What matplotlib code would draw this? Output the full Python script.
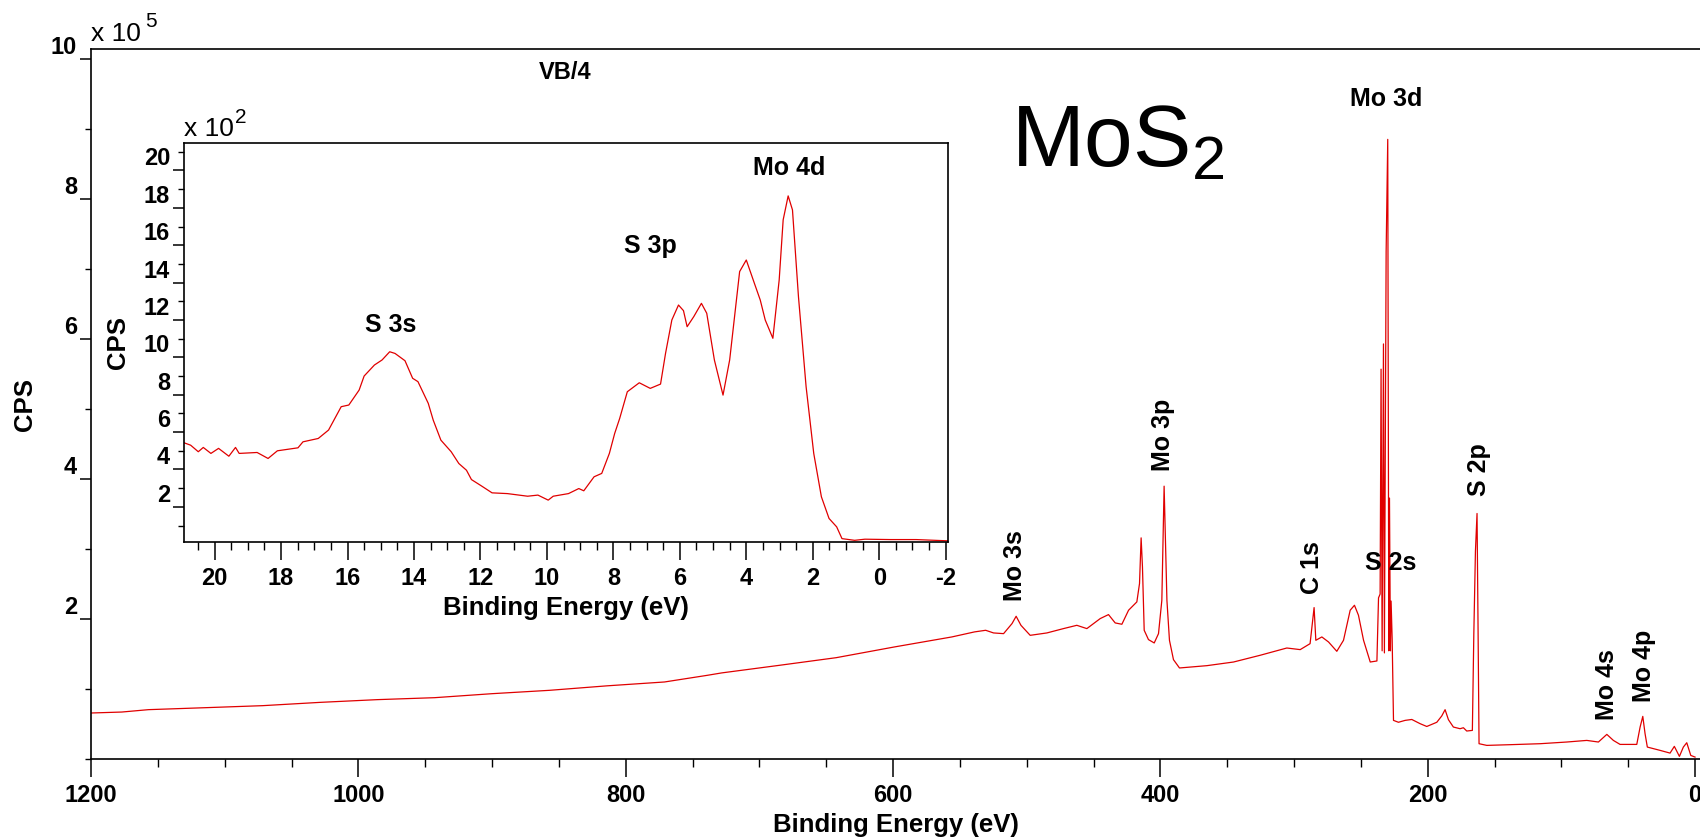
import matplotlib
matplotlib.use("Agg")
import matplotlib.pyplot as plt
from matplotlib.ticker import MultipleLocator

plt.rcParams['font.family'] = ['Liberation Sans', 'DejaVu Sans']
plt.rcParams['mathtext.default'] = 'regular'
plt.rcParams['axes.unicode_minus'] = False

# survey spectrum, binding energy (eV) and CPS in units of 1e5
survey_be = [1200.4, 1177, 1157, 1114.6, 1071.6, 1028.7, 985.8, 942.9, 900, 857,
             814, 771, 739, 728, 685, 642.5, 599, 556, 539, 530.7,
             524.8, 517.3, 511, 507.9, 504.3, 497.4, 484.9, 472.5, 462.5, 455,
             445, 438.8, 433.8, 428.8, 423.8, 417.6, 415.6, 414.4, 413.4, 412.1,
             408.9, 404.6, 401.4, 398.9, 397.2, 395.1, 393.2, 390.2, 385.7, 365.2,
             345.3, 325.4, 305.4, 295.4, 288, 285, 283.7, 279.2, 274.2, 268,
             263, 258, 254.8, 251.8, 248, 243, 238, 236.8, 235.6, 234.9,
             234.1, 233.1, 232.4, 231.1, 229.9, 229.1, 228.6, 227.9, 227.4, 226.6,
             225.6, 221.9, 216.9, 211.9, 205.7, 200.7, 193.2, 189.5, 187, 184.5,
             180.8, 175.8, 173.3, 170.8, 166.6, 165.5, 164.3, 163.1, 162.3, 161.6,
             155.8, 138.4, 115.9, 96, 81, 72.3, 66, 61.1, 56.1, 43.6,
             41.1, 39.1, 37.4, 35.7, 26.2, 18.7, 15.5, 11.7, 8.75, 6.2,
             3.2, 0]
survey_cps = [0.662, 0.676, 0.71, 0.738, 0.767, 0.814, 0.853, 0.881, 0.938, 0.986,
              1.05, 1.105, 1.20, 1.235, 1.343, 1.452, 1.605, 1.748, 1.82, 1.843,
              1.805, 1.795, 1.938, 2.043, 1.914, 1.771, 1.805, 1.867, 1.914, 1.867,
              2.010, 2.067, 1.948, 1.929, 2.129, 2.248, 2.51, 3.162, 2.748, 1.843,
              1.710, 1.662, 1.795, 2.271, 3.90, 2.271, 1.700, 1.424, 1.305, 1.338,
              1.390, 1.486, 1.590, 1.567, 1.652, 2.167, 1.700, 1.748, 1.676, 1.543,
              1.700, 2.129, 2.2, 2.057, 1.700, 1.390, 1.405, 2.306, 2.36, 5.57,
              1.55, 5.93, 1.52, 7.25, 8.85, 1.55, 3.73, 1.55, 2.26, 1.72,
              0.557, 0.53, 0.557, 0.57, 0.51, 0.47, 0.53, 0.62, 0.71, 0.567,
              0.462, 0.438, 0.452, 0.405, 0.414, 1.795, 2.971, 3.51, 1.795, 0.224,
              0.2, 0.21, 0.224, 0.248, 0.271, 0.248, 0.357, 0.271, 0.214, 0.214,
              0.462, 0.614, 0.367, 0.176, 0.129, 0.090, 0.186, 0.043, 0.176, 0.238,
              0.057, 0.033]

# valence band, binding energy (eV) and CPS in units of 1e2
vb_be = [20.92, 20.72, 20.49, 20.34, 20.11, 19.88, 19.57, 19.37, 19.26, 18.72,
         18.39, 18.11, 17.49, 17.34, 16.88, 16.57, 16.19, 15.96, 15.65, 15.50,
         15.19, 14.96, 14.73, 14.57, 14.27, 14.04, 13.88, 13.57, 13.42, 13.19,
         12.88, 12.65, 12.42, 12.27, 11.96, 11.65, 11.19, 10.58, 10.27, 9.96,
         9.81, 9.35, 9.04, 8.89, 8.58, 8.35, 8.12, 7.96, 7.81, 7.58,
         7.22, 6.89, 6.58, 6.43, 6.24, 6.04, 5.89, 5.78, 5.58, 5.35,
         5.19, 4.96, 4.70, 4.50, 4.20, 4.00, 3.74, 3.58, 3.43, 3.20,
         3.01, 2.89, 2.74, 2.61, 2.43, 2.20, 1.97, 1.74, 1.51, 1.28,
         1.12, 0.74, 0.43, -0.34, -1.11, -2.1]
vb_cps = [5.43, 5.30, 4.95, 5.18, 4.86, 5.13, 4.71, 5.18, 4.86, 4.91,
          4.59, 5.0, 5.16, 5.48, 5.66, 6.11, 7.36, 7.45, 8.25, 9.0,
          9.59, 9.86, 10.3, 10.21, 9.82, 8.88, 8.70, 7.54, 6.64, 5.57,
          4.95, 4.32, 3.96, 3.46, 3.11, 2.75, 2.71, 2.57, 2.63, 2.36,
          2.57, 2.71, 2.98, 2.86, 3.61, 3.79, 4.86, 5.93, 6.73, 8.16,
          8.64, 8.34, 8.57, 10.21, 12.0, 12.8, 12.5, 11.64, 12.18, 12.89,
          12.36, 9.86, 7.98, 9.86, 14.59, 15.21, 13.88, 13.07, 12.0, 11.02,
          14.14, 17.36, 18.64, 17.89, 13.25, 8.43, 4.86, 2.54, 1.38, 0.93,
          0.30, 0.21, 0.27, 0.25, 0.25, 0.18]

main_yticks = [2, 4, 6, 8, 10]
inset_yticks = [2, 4, 6, 8, 10, 12, 14, 16, 18, 20]

red = '#e00000'
bold = dict(fontweight='bold')


def style_axes(a, x_major, x_minor, yticks):
    for s in a.spines.values():
        s.set_linewidth(1.2)
    a.xaxis.set_major_locator(MultipleLocator(x_major))
    a.xaxis.set_minor_locator(MultipleLocator(x_minor))
    a.set_yticks(yticks)
    a.yaxis.set_minor_locator(MultipleLocator(1))
    a.tick_params(axis='x', which='major', length=13, width=1.1, pad=5, labelsize=17)
    a.tick_params(axis='x', which='minor', length=6, width=1.0)
    a.tick_params(axis='y', which='major', length=8, width=1.1, pad=2, labelsize=17)
    a.tick_params(axis='y', which='minor', length=4.5, width=1.0)
    for lbl in a.get_xticklabels() + a.get_yticklabels():
        lbl.set_fontweight('bold')
    for lbl in a.get_yticklabels():
        lbl.set_va('bottom')


def multiplier(a, power, dx, dy):
    # "x 10" with its exponent, above the top-left corner
    a.text(0, 1.004, 'x 10', transform=a.transAxes, fontsize=19, ha='left', va='bottom')
    a.annotate(power, xy=(0, 1), xycoords='axes fraction', xytext=(dx, dy),
               textcoords='offset pixels', fontsize=15, ha='left', va='bottom')


fig = plt.figure(figsize=(17, 8.39), dpi=100)

# main survey axes
ax = fig.add_axes([91 / 1700, 1 - 759.4 / 839, 1 - 91 / 1700, (759.4 - 49) / 839])
ax.plot(survey_be, survey_cps, color=red, lw=0.9)
ax.set_xlim(1200, -3.7)
ax.set_ylim(0, 10.14)
ax.spines['right'].set_visible(False)
style_axes(ax, 200, 50, main_yticks)
ax.set_xlabel('Binding Energy (eV)', fontsize=18.5, labelpad=4, **bold)
ax.set_ylabel('CPS', fontsize=18.5, va='center', **bold)
ax.yaxis.set_label_coords(-0.041, 0.5)
multiplier(ax, '5', 54, 18)

# peak labels on the survey
ax.text(508.6, 2.77, 'Mo 3s', rotation=90, ha='center', va='center', fontsize=18, **bold)
ax.text(398, 4.63, 'Mo 3p', rotation=90, ha='center', va='center', fontsize=18, **bold)
ax.text(286.5, 2.74, 'C 1s', rotation=90, ha='center', va='center', fontsize=18, **bold)
ax.text(227.4, 2.81, 'S 2s', ha='center', va='center', fontsize=18, **bold)
ax.text(161.6, 4.13, 'S 2p', rotation=90, ha='center', va='center', fontsize=18, **bold)
ax.text(65.8, 1.07, 'Mo 4s', rotation=90, ha='center', va='center', fontsize=18, **bold)
ax.text(38.1, 1.34, 'Mo 4p', rotation=90, ha='center', va='center', fontsize=18, **bold)
ax.text(231.1, 9.43, 'Mo 3d', ha='center', va='center', fontsize=18, **bold)
ax.text(845, 9.81, 'VB/4', ha='center', va='center', fontsize=17, **bold)
ax.text(512, 8.46, r'MoS$_2$', ha='left', va='baseline', fontsize=63)

# valence band inset
ax2 = fig.add_axes([184 / 1700, 1 - 542 / 839, (948 - 184) / 1700, (542 - 143) / 839])
ax2.plot(vb_be, vb_cps, color=red, lw=0.9)
ax2.set_xlim(20.92, -2.07)
ax2.set_ylim(0.12, 21.47)
style_axes(ax2, 2, 0.5, inset_yticks)
ax2.set_xlabel('Binding Energy (eV)', fontsize=18.5, labelpad=4, **bold)
ax2.set_ylabel('CPS', fontsize=18.5, va='center', **bold)
ax2.yaxis.set_label_coords((118 - 184) / 764, 0.5)
multiplier(ax2, '2', 51, 16)
ax2.text(14.69, 11.73, 'S 3s', ha='center', va='center', fontsize=18, **bold)
ax2.text(6.89, 15.96, 'S 3p', ha='center', va='center', fontsize=18, **bold)
ax2.text(2.70, 20.14, 'Mo 4d', ha='center', va='center', fontsize=18, **bold)

fig.savefig('out.png', dpi=100)
